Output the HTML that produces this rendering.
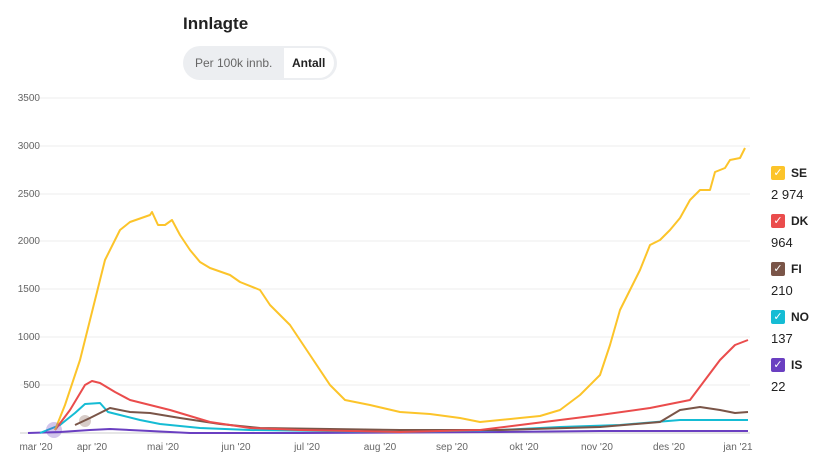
<!DOCTYPE html>
<html><head><style>
body{margin:0;width:824px;height:474px;background:#fff;font-family:"Liberation Sans",sans-serif;overflow:hidden;position:relative}
.t{position:absolute;left:183px;top:14px;font-size:17px;font-weight:bold;color:#222}
.pill{position:absolute;left:183px;top:46px;width:154px;height:34px;border-radius:17px;background:#eceef1;}
.pill span{position:absolute;top:10px;font-size:12px}
.on{position:absolute;left:101px;top:2px;width:50px;height:30px;background:#fff;border-radius:0 15px 15px 0}
.lg{position:absolute;left:771px;font-size:13px;color:#222}
.cb{position:absolute;left:771px;width:14px;height:14px;border-radius:2px;color:#fff;font-size:11px;text-align:center;line-height:14px}
.nm{position:absolute;left:791px;font-size:12px;font-weight:bold;color:#222}
</style></head><body>
<div class="t">Innlagte</div>
<div class="pill"><div class="on"></div><span style="left:12px;color:#666">Per 100k innb.</span><span style="left:109px;font-weight:bold;color:#222">Antall</span></div>
<svg width="824" height="474" style="position:absolute;left:0;top:0" font-family="Liberation Sans" font-size="10" fill="#666">
<g stroke="#eee" stroke-width="1">
<line x1="20" x2="750" y1="98" y2="98"/><line x1="20" x2="750" y1="146" y2="146"/><line x1="20" x2="750" y1="194" y2="194"/><line x1="20" x2="750" y1="241" y2="241"/><line x1="20" x2="750" y1="289" y2="289"/><line x1="20" x2="750" y1="337" y2="337"/><line x1="20" x2="750" y1="385" y2="385"/>
</g>
<line x1="20" x2="750" y1="433" y2="433" stroke="#ccc"/>
<g text-anchor="end"><text x="40" y="101">3500</text><text x="40" y="149">3000</text><text x="40" y="197">2500</text><text x="40" y="244">2000</text><text x="40" y="292">1500</text><text x="40" y="340">1000</text><text x="40" y="388">500</text></g>
<g text-anchor="middle"><text x="36" y="450">mar '20</text><text x="92" y="450">apr '20</text><text x="163" y="450">mai '20</text><text x="236" y="450">jun '20</text><text x="307" y="450">jul '20</text><text x="380" y="450">aug '20</text><text x="452" y="450">sep '20</text><text x="524" y="450">okt '20</text><text x="597" y="450">nov '20</text><text x="669" y="450">des '20</text><text x="738" y="450">jan '21</text></g>
<g fill="none" stroke-width="2" stroke-linejoin="round">
<polyline stroke="#6a3fc1" points="28,433 60,432 90,430 110,429 150,431 190,433 300,433 500,432 600,431 700,431 748,431"/>
<polyline stroke="#15bcd4" points="40,433 60,425 75,413 85,404 100,403 108,412 120,415 140,420 160,424 200,428 250,430 400,432 500,430 560,427 620,425 680,420 748,420"/>
<polyline stroke="#7a5548" points="75,425 90,418 110,408 130,412 150,413 180,418 220,424 260,428 400,430 500,430 600,427 660,422 680,410 700,407 720,410 735,413 748,412"/>
<polyline stroke="#ea4c4c" points="55,430 70,410 85,385 92,381 100,383 115,392 130,400 150,405 170,410 190,416 210,422 250,428 300,430 400,432 480,430 520,425 560,420 600,415 650,408 690,400 705,380 720,360 735,345 748,340"/>
<polyline stroke="#fcc42a" points="55,430 65,405 80,360 95,300 105,260 120,230 130,222 150,215 152,212 158,225 165,225 172,220 180,235 190,250 200,262 210,268 230,275 240,282 260,290 270,305 290,325 300,340 310,355 330,385 345,400 370,405 400,412 430,414 460,418 480,422 500,420 520,418 540,416 560,410 580,395 600,375 610,345 620,310 630,290 640,270 650,245 660,240 670,230 680,218 690,200 700,190 710,190 715,172 720,170 725,168 730,160 740,158 745,148"/>
</g>
<circle cx="54" cy="430" r="8" fill="#6a3fc1" opacity="0.3"/>
<circle cx="85" cy="421" r="6" fill="#7a5548" opacity="0.3"/>
</svg>
<div class="cb" style="top:166px;background:#fcc42a">✓</div><div class="nm" style="top:166px">SE</div><div class="lg" style="top:187px">2 974</div>
<div class="cb" style="top:214px;background:#ea4c4c">✓</div><div class="nm" style="top:214px">DK</div><div class="lg" style="top:235px">964</div>
<div class="cb" style="top:262px;background:#7a5548">✓</div><div class="nm" style="top:262px">FI</div><div class="lg" style="top:283px">210</div>
<div class="cb" style="top:310px;background:#15bcd4">✓</div><div class="nm" style="top:310px">NO</div><div class="lg" style="top:331px">137</div>
<div class="cb" style="top:358px;background:#6a3fc1">✓</div><div class="nm" style="top:358px">IS</div><div class="lg" style="top:379px">22</div>
</body></html>
